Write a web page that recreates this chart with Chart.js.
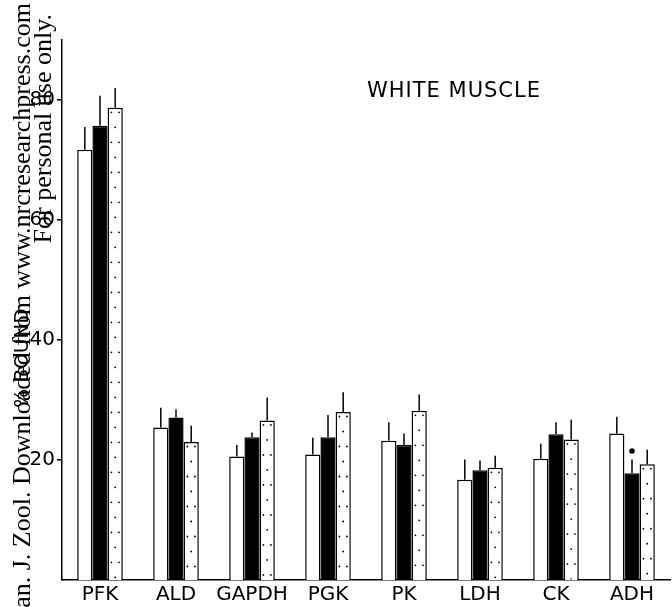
<!DOCTYPE html>
<html>
<head>
<meta charset="utf-8">
<script src="https://cdn.jsdelivr.net/npm/chart.js"></script>
<style>
  html, body { margin: 0; padding: 0; background: #fff; }
  #wrap { width: 672px; height: 607px; }
</style>
</head>
<body>
<div id="wrap"><canvas id="chart" width="672" height="607"></canvas></div>
<script>
// Data (% bound, white muscle)
const categories = ['PFK', 'ALD', 'GAPDH', 'PGK', 'PK', 'LDH', 'CK', 'ADH'];
const openValues   = [71.7, 25.4, 20.6, 20.9, 23.2, 16.7, 20.2, 24.4];
const openSE       = [3.8, 3.3, 1.9, 2.8, 3.1, 3.4, 2.5, 2.8];
const solidValues  = [75.7, 27.1, 23.8, 23.8, 22.5, 18.3, 24.3, 17.8];
const solidSE      = [5.0, 1.3, 0.8, 3.7, 1.9, 1.6, 2.0, 2.3];
const dottedValues = [78.7, 23.0, 26.6, 28.0, 28.2, 18.7, 23.4, 19.3];
const dottedSE     = [3.3, 2.7, 3.8, 3.3, 2.7, 2.0, 3.3, 2.4];
const solidSignif  = [null, null, null, null, null, null, null, 21.5];
const yTicks = [20, 40, 60, 80];

const errors = [openSE, solidSE, dottedSE];
const FONT = '"DejaVu Sans", sans-serif';

// Error bars, dots in the stippled bars and the significance mark
const decorPlugin = {
    id: 'decor',
    afterDatasetsDraw(chart) {
        const ctx = chart.ctx;
        const y = chart.scales.y;
        ctx.save();
        // stipple dots
        const dotted = chart.getDatasetMeta(2);
        dotted.data.forEach(bar => {
            const left = bar.x - bar.width / 2;
            const right = bar.x + bar.width / 2;
            ctx.save();
            ctx.beginPath();
            ctx.rect(left + 1.5, bar.y + 1.5, bar.width - 3, bar.base - bar.y - 2);
            ctx.clip();
            ctx.fillStyle = '#000';
            let row = 0;
            for (let py = bar.y + 4.5; py < bar.base; py += 15, row++) {
                const xs = row % 2 === 0 ? [left + 3.8, right - 3.8] : [bar.x];
                xs.forEach(px => {
                    ctx.beginPath();
                    ctx.arc(px, py, 0.9, 0, Math.PI * 2);
                    ctx.fill();
                });
            }
            ctx.restore();
        });
        // error bars
        ctx.strokeStyle = '#000';
        ctx.lineWidth = 1.5;
        errors.forEach((se, di) => {
            const meta = chart.getDatasetMeta(di);
            meta.data.forEach((bar, i) => {
                const v = chart.data.datasets[di].data[i];
                const top = y.getPixelForValue(v + se[i]);
                ctx.beginPath();
                ctx.moveTo(bar.x, bar.y);
                ctx.lineTo(bar.x, top);
                ctx.stroke();
            });
        });
        // significance dot
        const solid = chart.getDatasetMeta(1);
        solidSignif.forEach((v, i) => {
            if (v == null) return;
            ctx.beginPath();
            ctx.arc(solid.data[i].x, y.getPixelForValue(v), 2.8, 0, Math.PI * 2);
            ctx.fillStyle = '#000';
            ctx.fill();
        });
        ctx.restore();
    },
    afterDraw(chart) {
        const ctx = chart.ctx;
        ctx.save();
        ctx.fillStyle = '#000';
        // panel title
        ctx.font = '21px ' + FONT;
        ctx.letterSpacing = '1px';
        ctx.textAlign = 'left';
        ctx.textBaseline = 'alphabetic';
        ctx.fillText('WHITE MUSCLE', 367, 96.5);
        ctx.letterSpacing = '0px';
        // y axis label
        ctx.save();
        ctx.translate(28, 358);
        ctx.rotate(-Math.PI / 2);
        ctx.font = '20px ' + FONT;
        ctx.textAlign = 'center';
        ctx.fillText('% BOUND', 0, 0);
        ctx.restore();
        // download stamp along the left edge
        ctx.font = '26px "Liberation Serif", serif';
        ctx.textAlign = 'right';
        ctx.save();
        ctx.translate(30, 3);
        ctx.rotate(-Math.PI / 2);
        ctx.fillText('Can. J. Zool. Downloaded from www.nrcresearchpress.com', 0, 0);
        ctx.restore();
        ctx.save();
        ctx.translate(51, 14);
        ctx.rotate(-Math.PI / 2);
        ctx.fillText('For personal use only.', 0, 0);
        ctx.restore();
        ctx.restore();
    }
};

new Chart(document.getElementById('chart'), {
    type: 'bar',
    data: {
        labels: categories,
        datasets: [
            { data: openValues, backgroundColor: '#fff', borderColor: '#000', borderWidth: 1.5 },
            { data: solidValues, backgroundColor: '#000', borderColor: '#000', borderWidth: 1.5 },
            { data: dottedValues, backgroundColor: '#fff', borderColor: '#000', borderWidth: 1.5 }
        ]
    },
    options: {
        responsive: false,
        animation: false,
        devicePixelRatio: 1,
        categoryPercentage: 0.6,
        barPercentage: 1.0,
        layout: { padding: { top: 40, right: 2, left: 0, bottom: 0 } },
        plugins: { legend: { display: false }, tooltip: { enabled: false } },
        scales: {
            x: {
                grid: { display: false },
                border: { display: true, color: '#000', width: 1.5 },
                ticks: { color: '#000', font: { family: FONT, size: 20 }, padding: -5, maxRotation: 0, autoSkip: false },
                afterFit(scale) { scale.height = 27; }
            },
            y: {
                min: 0,
                max: 90,
                afterBuildTicks(scale) { scale.ticks = yTicks.map(v => ({ value: v })); },
                grid: { drawOnChartArea: false, drawTicks: true, tickLength: 5, color: '#000', lineWidth: 1.5 },
                border: { display: true, color: '#000', width: 1.5 },
                ticks: { color: '#000', font: { family: FONT, size: 20 }, padding: 2 },
                afterFit(scale) { scale.width = 62; }
            }
        }
    },
    plugins: [decorPlugin]
});
</script>
</body>
</html>
